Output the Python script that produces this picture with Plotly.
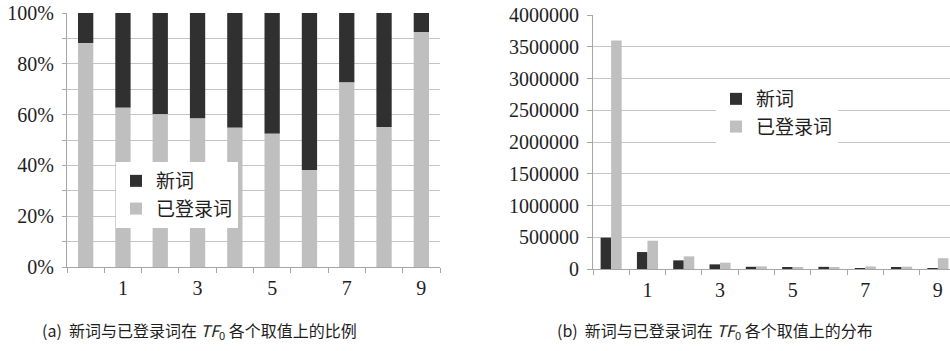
import plotly.graph_objects as go

categories = [0, 1, 2, 3, 4, 5, 6, 7, 8, 9]
tick_labels = ["1", "3", "5", "7", "9"]
tick_positions = [1, 3, 5, 7, 9]

# (a) proportions of known words (已登录词); new words fill the rest
known_ratio = [0.881, 0.627, 0.601, 0.585, 0.548, 0.525, 0.382, 0.726, 0.551, 0.925]
new_ratio = [round(1 - v, 3) for v in known_ratio]

# (b) counts
new_counts = [493000, 267000, 136000, 73000, 35000, 18000, 34000, 15000, 30000, 14000]
known_counts = [3600000, 445000, 199000, 100000, 42000, 20000, 21000, 40000, 37000, 170000]

DARK = "#303030"
LIGHT = "#bfbfbf"
GRID = "#c4c4c4"
AXIS = "#a6a6a6"
TXT = "#1e1e1e"
SERIF = "Liberation Serif, Times New Roman, serif"
CJK = "Noto Sans CJK SC, sans-serif"

W, H = 950, 351

fig = go.Figure()

# left: stacked proportions
fig.add_trace(go.Bar(x=categories, y=new_ratio, base=known_ratio, name="新词",
                     marker=dict(color=DARK, line=dict(width=0)),
                     width=0.41, offset=-0.205, xaxis="x", yaxis="y", legend="legend"))
fig.add_trace(go.Bar(x=categories, y=known_ratio, name="已登录词",
                     marker=dict(color=LIGHT, line=dict(width=0)),
                     width=0.41, offset=-0.205, xaxis="x", yaxis="y", legend="legend"))

# right: grouped counts
fig.add_trace(go.Bar(x=categories, y=new_counts, name="新词",
                     marker=dict(color=DARK, line=dict(width=0)),
                     width=0.29, offset=-0.29, xaxis="x2", yaxis="y2", legend="legend2"))
fig.add_trace(go.Bar(x=categories, y=known_counts, name="已登录词",
                     marker=dict(color=LIGHT, line=dict(width=0)),
                     width=0.29, offset=0.0, xaxis="x2", yaxis="y2", legend="legend2"))

boundaries = [c - 0.5 for c in categories] + [categories[-1] + 0.5]

xcommon = dict(
    type="linear", tickmode="array", tickvals=tick_positions, ticktext=tick_labels,
    ticks="", showgrid=False, zeroline=False, showline=True, linecolor=AXIS, linewidth=1,
    tickfont=dict(family=SERIF, size=20, color=TXT), ticklabelstandoff=3,
    minor=dict(tickmode="array", tickvals=boundaries, ticks="outside", ticklen=5,
               tickcolor=AXIS, showgrid=False),
    fixedrange=True, automargin=False,
)

fig.update_layout(
    width=W, height=H,
    margin=dict(l=0, r=0, t=0, b=0, autoexpand=False),
    paper_bgcolor="white", plot_bgcolor="white",
    barmode="overlay",
    showlegend=True,
    xaxis=dict(xcommon, domain=[67 / W, 440 / W], range=[-0.5, 9.5], anchor="y"),
    yaxis=dict(domain=[(H - 267) / H, (H - 13) / H], range=[0, 1], anchor="x",
               tickmode="linear", dtick=0.2, tick0=0, tickformat=".0%",
               showgrid=True, gridcolor=GRID, gridwidth=1, zeroline=False,
               showline=True, linecolor=AXIS, ticks="outside", ticklen=4, tickcolor=AXIS,
               tickfont=dict(family=SERIF, size=20, color=TXT), ticklabelstandoff=4,
               automargin=False,
               minor=dict(dtick=0.1, showgrid=True, gridcolor=GRID, ticks="outside",
                          ticklen=4, tickcolor=AXIS)),
    xaxis2=dict(xcommon, domain=[593 / W, 1.0], range=[-0.5, -0.5 + 357 / 36.3], anchor="y2"),
    yaxis2=dict(domain=[(H - 269) / H, (H - 15) / H], range=[0, 4000000], anchor="x2",
                tickmode="linear", dtick=500000, tick0=0, tickformat="d",
                showgrid=True, gridcolor=GRID, gridwidth=1, zeroline=False,
                showline=True, linecolor=AXIS, ticks="outside", ticklen=5, tickcolor=AXIS,
                tickfont=dict(family=SERIF, size=20, color=TXT), ticklabelstandoff=4,
                automargin=False),
    legend=dict(x=116 / W, y=(H - 162) / H, xanchor="left", yanchor="top",
                bgcolor="white", borderwidth=0, traceorder="normal",
                font=dict(family=CJK, size=19, color=TXT),
                itemwidth=30, tracegroupgap=0),
    legend2=dict(x=716 / W, y=(H - 80) / H, xanchor="left", yanchor="top",
                 bgcolor="white", borderwidth=0, traceorder="normal",
                 font=dict(family=CJK, size=19, color=TXT),
                 itemwidth=30, tracegroupgap=0),
    annotations=[
        dict(text="(a)  新词与已登录词在 <i>TF</i><sub>0</sub> 各个取值上的比例",
             xref="paper", yref="paper", x=40 / W, y=(H - 330) / H,
             xanchor="left", yanchor="middle", showarrow=False,
             font=dict(family=CJK, size=16, color=TXT)),
        dict(text="(b)  新词与已登录词在 <i>TF</i><sub>0</sub> 各个取值上的分布",
             xref="paper", yref="paper", x=555 / W, y=(H - 330) / H,
             xanchor="left", yanchor="middle", showarrow=False,
             font=dict(family=CJK, size=16, color=TXT)),
    ],
)

fig.write_html("out.html")
